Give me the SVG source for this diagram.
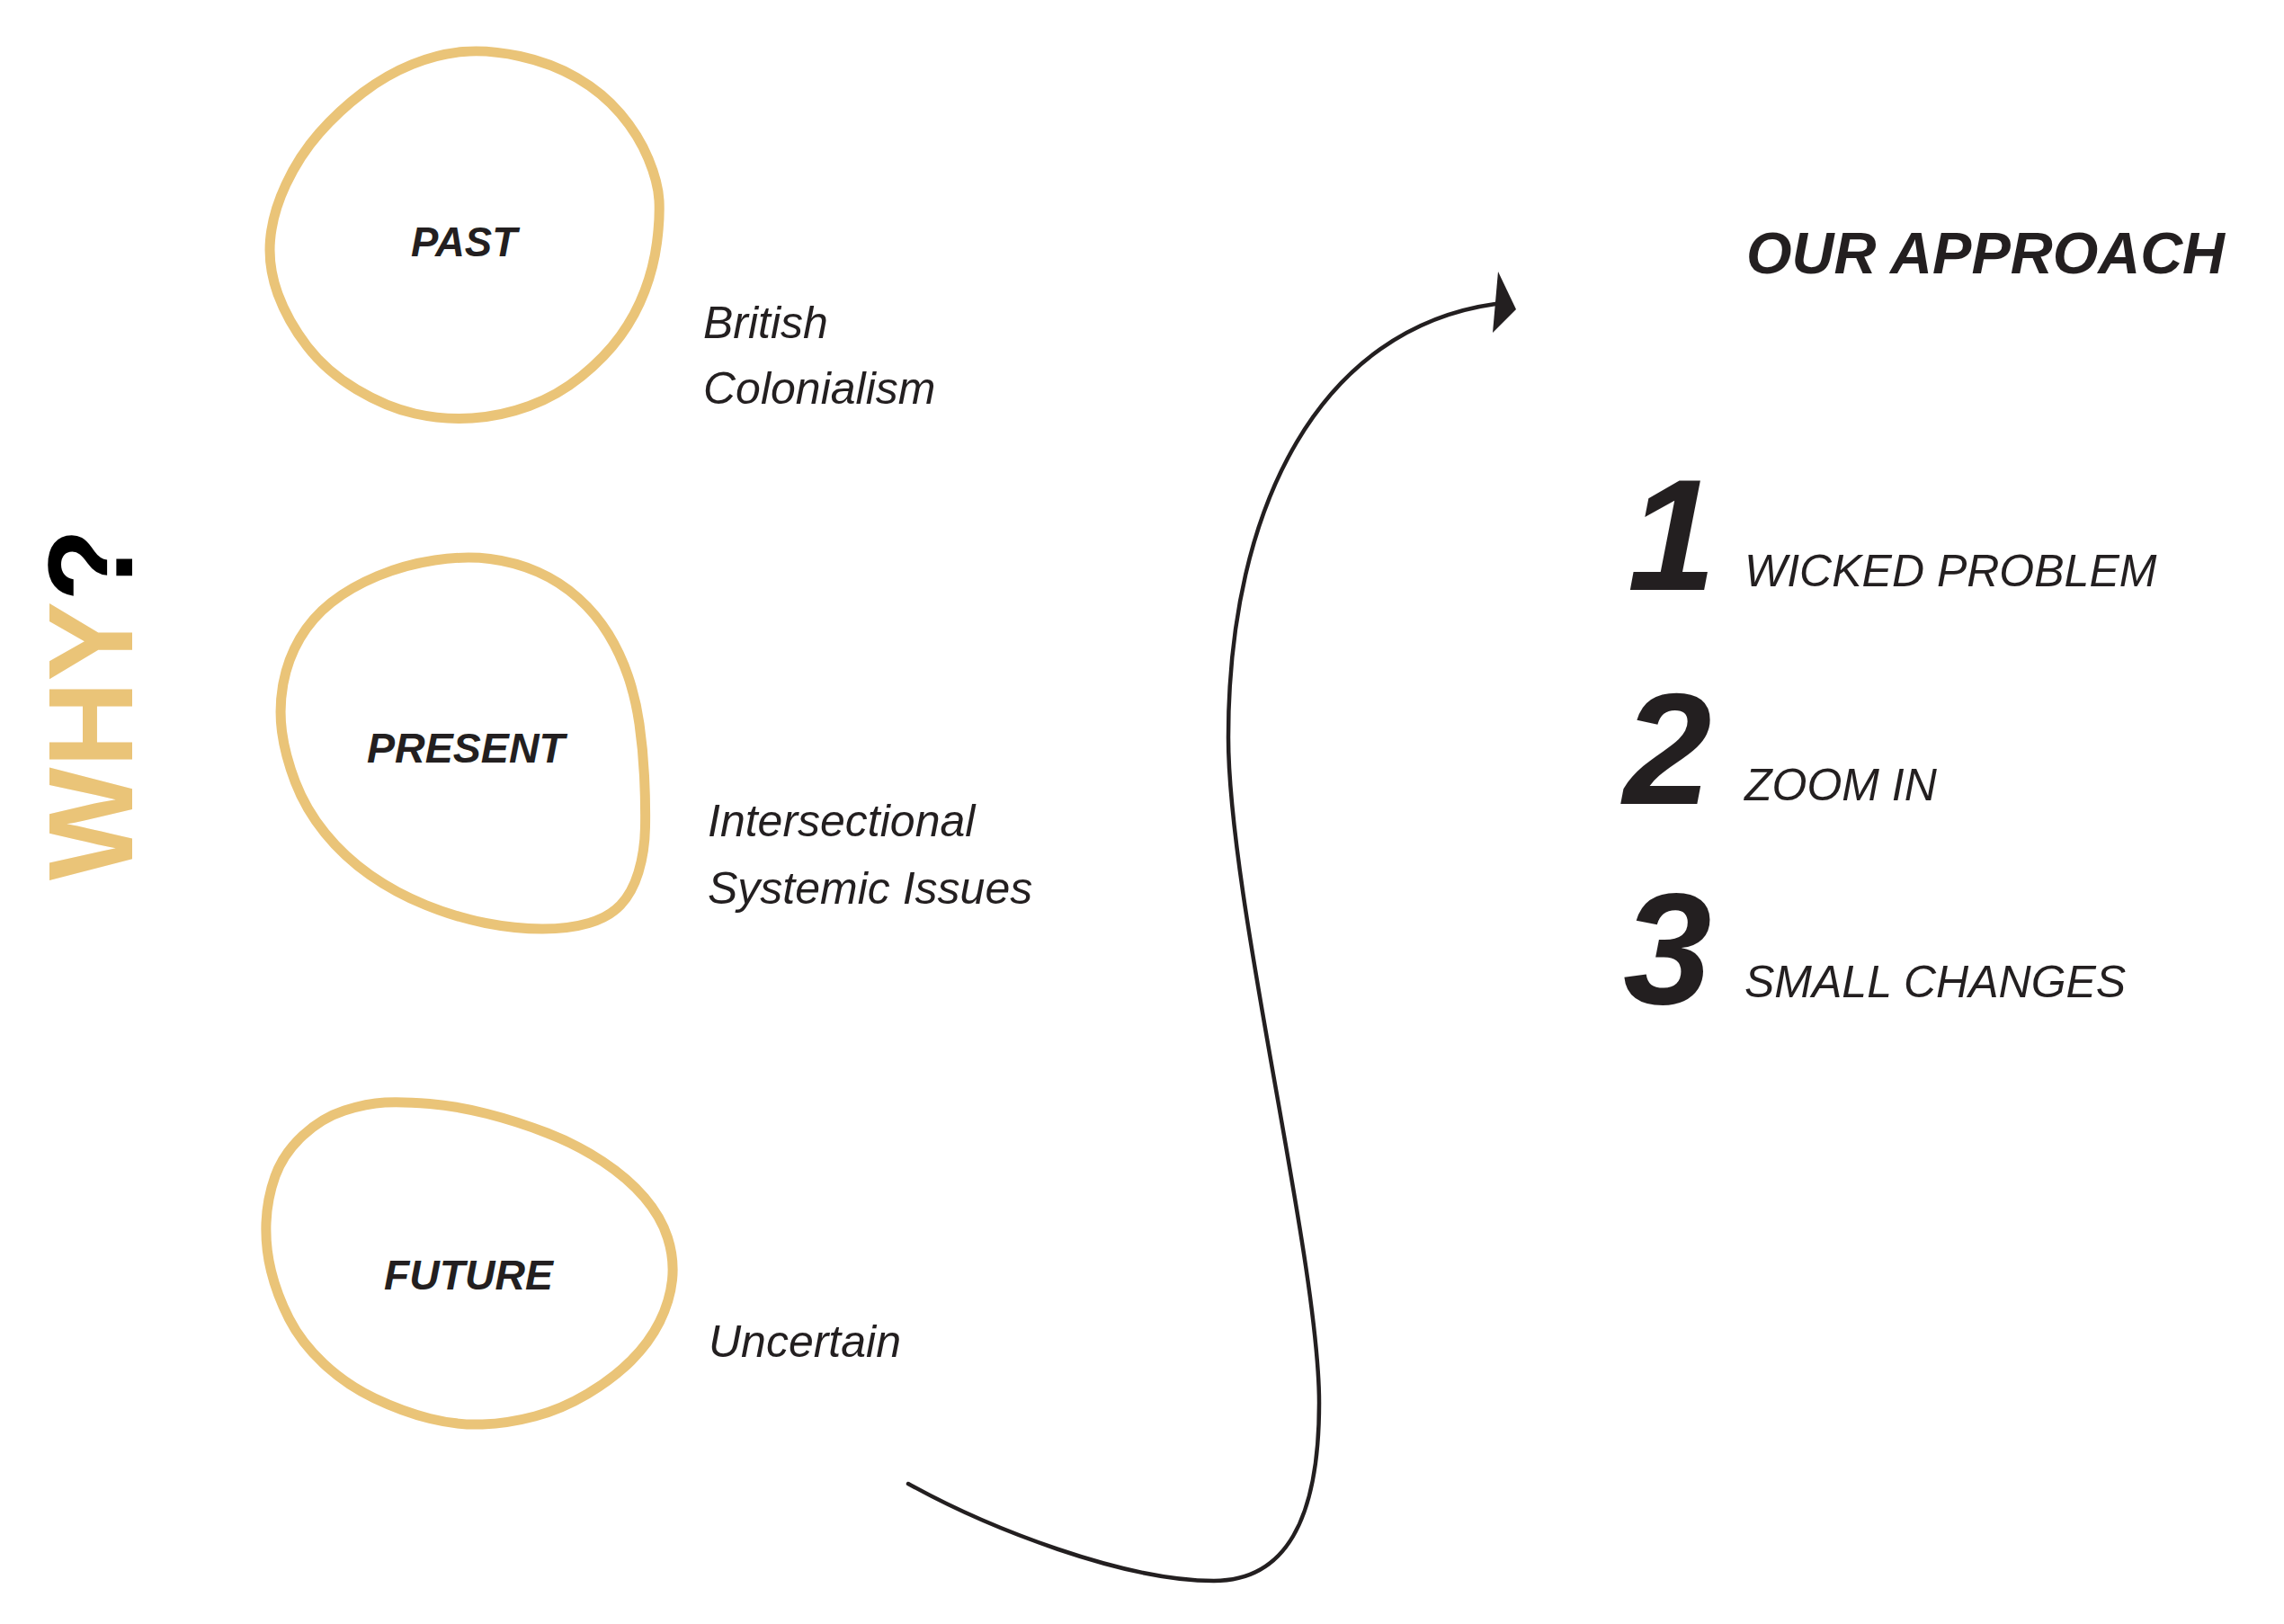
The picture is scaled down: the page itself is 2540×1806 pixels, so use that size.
<svg xmlns="http://www.w3.org/2000/svg" width="2540" height="1806" viewBox="0 0 2540 1806">
<style>
.blob{fill:none;stroke:#EAC478;stroke-width:11;stroke-linejoin:round}
.lbl{font-family:"Liberation Sans",Arial,sans-serif;font-weight:bold;font-style:italic;font-size:46px;fill:#231F20}
.body{font-family:"Liberation Sans",Arial,sans-serif;font-style:italic;font-size:50px;fill:#231F20}
.num{font-family:"Liberation Sans",Arial,sans-serif;font-weight:bold;font-style:italic;font-size:177px;fill:#231F20}
.conn{fill:none;stroke:#231F20;stroke-width:4.5;stroke-linecap:round}
</style>
<rect width="2540" height="1806" fill="#FFFFFF"/>
<g id="why">
<text x="147" y="979" transform="rotate(-90 147 979)" font-family="Liberation Sans, Arial, sans-serif" font-weight="bold" font-size="133"><tspan fill="#EAC478">WHY</tspan><tspan fill="#000000">?</tspan></text>
</g>
<g id="past">
<path class="blob" d="M515,57.5 Q543,55 578,62.5 Q613,70 641.5,86.5 Q670,103 690,126.5 Q710,150 721,176.5 Q732,203 733,223 Q734,243 730.5,270 Q727,297 717,323.5 Q707,350 690,373.5 Q673,397 646.5,418.5 Q620,440 588.5,451.5 Q557,463 525,465 Q493,467 461.5,460 Q430,453 396.5,433 Q363,413 341.5,385 Q320,357 309,327 Q298,297 300.5,267 Q303,237 318,205 Q333,173 355,148 Q377,123 403.5,103 Q430,83 458.5,71.5 Q487,60 515,57.5 Z"/>
<text class="lbl" x="457" y="285" textLength="118" lengthAdjust="spacingAndGlyphs">PAST</text>
<text class="body" x="782" y="376">British</text>
<text class="body" x="782" y="449">Colonialism</text>
</g>
<g id="present">
<path class="blob" d="M483.5,623 Q517,618 545,621.5 Q573,625 598,636 Q623,647 643,665 Q663,683 676.5,705 Q690,727 698.5,752 Q707,777 711,805 Q715,833 716.5,863 Q718,893 717.5,920 Q717,947 710,970 Q703,993 690,1006.5 Q677,1020 655,1026.5 Q633,1033 603,1033 Q573,1033 540,1026.5 Q507,1020 473.5,1006.5 Q440,993 411.5,973 Q383,953 361.5,926.5 Q340,900 328.5,870 Q317,840 313.5,813.5 Q310,787 315,760 Q320,733 333.5,710 Q347,687 368.5,670 Q390,653 420,640.5 Q450,628 483.5,623 Z"/>
<text class="lbl" x="408" y="848" textLength="220" lengthAdjust="spacingAndGlyphs">PRESENT</text>
<text class="body" x="787" y="930">Intersectional</text>
<text class="body" x="787" y="1005">Systemic Issues</text>
</g>
<g id="future">
<path class="blob" d="M428,1226 Q448,1225 478,1227.5 Q508,1230 541.5,1238.5 Q575,1247 608.5,1260 Q642,1273 670,1291.5 Q698,1310 716.5,1331.5 Q735,1353 742.5,1376.5 Q750,1400 747.5,1423.5 Q745,1447 733.5,1470 Q722,1493 702,1513 Q682,1533 653.5,1550 Q625,1567 595,1575 Q565,1583 536.5,1584 Q508,1585 478,1577.5 Q448,1570 416.5,1555 Q385,1540 360,1516.5 Q335,1493 321.5,1466.5 Q308,1440 301.5,1413.5 Q295,1387 296,1360 Q297,1333 306,1308 Q315,1283 336.5,1263 Q358,1243 383,1235 Q408,1227 428,1226 Z"/>
<text class="lbl" x="427" y="1434" textLength="188" lengthAdjust="spacingAndGlyphs">FUTURE</text>
<text class="body" x="788" y="1509">Uncertain</text>
</g>
<g id="connectors">
<path class="conn" d="M1010,1650 C1100,1700 1250,1758 1350,1758 C1430,1758 1467,1690 1467,1560 C1467,1400 1366,1000 1366,820 C1366,560 1470,365 1663,338"/>
<polygon points="1686,344 1666,302 1660,370" fill="#231F20"/>
</g>
<g id="approach">
<text x="1942" y="304" font-family="Liberation Sans, Arial, sans-serif" font-weight="bold" font-style="italic" font-size="65" fill="#231F20">OUR APPROACH</text>
</g>
<g id="item1">
<text class="num" x="1810" y="656">1</text>
<text class="body" x="1940" y="652" font-size="51">WICKED PROBLEM</text>
</g>
<g id="item2">
<text class="num" x="1805" y="894">2</text>
<text class="body" x="1940" y="890" font-size="51">ZOOM IN</text>
</g>
<g id="item3">
<text class="num" x="1805" y="1116">3</text>
<text class="body" x="1940" y="1109" font-size="51">SMALL CHANGES</text>
</g>
</svg>
